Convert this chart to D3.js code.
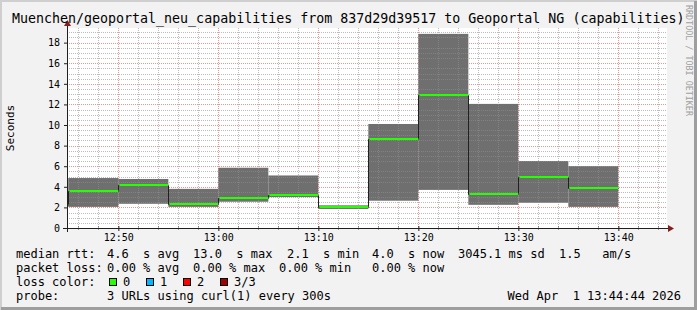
<!DOCTYPE html>
<html>
<head>
<meta charset="utf-8">
<script src="https://cdn.jsdelivr.net/npm/d3@7"></script>
<style>
	html, body { margin: 0; padding: 0; background: #fff; }
	svg { display: block; font-family: "DejaVu Sans Mono", monospace; }
	text { white-space: pre; }
</style>
</head>
<body>
<div id="graphic"></div>
<script>

///////////////////////////////////////////////////////////////////////
// data (5 minute steps, seconds)

const bin_start = [ "12:40", "12:45", "12:50", "12:55", "13:00", "13:05",
	"13:10", "13:15", "13:20", "13:25", "13:30", "13:35" ];
const rtt_min = [ 2.05, 2.05, 2.35, 2.05, 2.55, 3.00, 1.85, 2.65, 3.70, 2.25, 2.45, 2.05 ];
const rtt_median = [ 2.25, 3.55, 4.20, 2.30, 2.90, 3.20, 2.08, 8.65, 12.95, 3.30, 4.95, 3.90 ];
const rtt_max = [ 4.85, 4.85, 4.76, 3.80, 5.85, 5.10, 2.20, 10.10, 18.85, 12.05, 6.50, 6.00 ];

const time_window = [ "12:44:52", "13:44:52" ];
const y_top = 19.42;
const y_ticks = [ 0, 2, 4, 6, 8, 10, 12, 14, 16, 18 ];

const title = "Muenchen/geoportal_neu_capabilities from 837d29d39517 to Geoportal NG (capabilities)";
const legend_rtt = [ "4.6  s avg", "13.0  s max", "2.1  s min", "4.0  s now", "3045.1 ms sd", "1.5   am/s" ];
const legend_loss = [ "0.00 % avg", "0.00 % max", "0.00 % min", "0.00 % now" ];
const loss_labels = [ "0", "1", "2", "3/3" ];
const loss_colors = [ "#26ff00", "#00b8ff", "#ff0000", "#a00000" ];
const probe_text = "3 URLs using curl(1) every 300s";
const stamp_text = "Wed Apr  1 13:44:44 2026";

///////////////////////////////////////////////////////////////////////

const W = 697, H = 310;
const plot = { left: 67, right: 667, top: 28, bottom: 228 };

const parse_hm = d3.timeParse( "%Y-%m-%d %H:%M" );
const parse_hms = d3.timeParse( "%Y-%m-%d %H:%M:%S" );
const day = "2026-04-01 ";

let bins = bin_start.map( ( t, i ) => {
	let t0 = parse_hm( day + t );
	return {
		t0,
		t1: d3.timeMinute.offset( t0, 5 ),
		min: rtt_min[ i ],
		med: rtt_median[ i ],
		max: rtt_max[ i ]
	};
});

let x = d3.scaleTime()
	.domain( time_window.map( t => parse_hms( day + t ) ) )
	.range( [ plot.left, plot.right ] );

let y = d3.scaleLinear()
	.domain( [ 0, y_top ] )
	.range( [ plot.bottom, plot.top ] );

let svg = d3.select( "#graphic" )
	.append( "svg" )
		.attr( "width", W )
		.attr( "height", H );

// background + rrdtool shading
svg.append( "rect" )
	.attr( "width", W ).attr( "height", H )
	.attr( "fill", "#f2f2f2" );
svg.append( "path" )
	.attr( "d", `M1,${H} L1,1 L${W},1` )
	.attr( "fill", "none" ).attr( "stroke", "#cfcfcf" ).attr( "stroke-width", 2 );
svg.append( "path" )
	.attr( "d", `M1,${H - 1.5} L${W - 1.5},${H - 1.5} L${W - 1.5},1` )
	.attr( "fill", "none" ).attr( "stroke", "#9e9e9e" ).attr( "stroke-width", 3 );

svg.append( "rect" )
	.attr( "x", plot.left ).attr( "y", plot.top )
	.attr( "width", plot.right - plot.left ).attr( "height", plot.bottom - plot.top )
	.attr( "fill", "#fff" );

svg.append( "clipPath" ).attr( "id", "clip" )
	.append( "rect" )
		.attr( "x", plot.left ).attr( "y", plot.top )
		.attr( "width", plot.right - plot.left ).attr( "height", plot.bottom - plot.top );

const px = v => Math.round( v ) + 0.5;

let minor_t = d3.timeMinute.every( 2 ).range( ...x.domain() ).filter( d => d.getMinutes() % 10 );
let major_t = d3.timeMinute.every( 10 ).range( ...x.domain() );
let minor_v = d3.range( 0.5, y_top, 0.5 ).filter( v => v % 2 );

function grid( g, color )	{
	g.attr( "stroke", color ).attr( "stroke-dasharray", "1,1" ).attr( "fill", "none" );
}

// major grid (red) under the smoke
let gmaj = svg.append( "g" ).call( grid, "rgba(222,79,79,0.6)" );
gmaj.selectAll( "line.v" ).data( major_t ).join( "line" )
	.attr( "x1", d => px( x( d ) ) ).attr( "x2", d => px( x( d ) ) )
	.attr( "y1", plot.top ).attr( "y2", plot.bottom );
gmaj.selectAll( "line.h" ).data( y_ticks.filter( v => v > 0 ) ).join( "line" )
	.attr( "x1", plot.left ).attr( "x2", plot.right )
	.attr( "y1", d => px( y( d ) ) ).attr( "y2", d => px( y( d ) ) );

// smoke
let data_g = svg.append( "g" ).attr( "clip-path", "url(#clip)" );

data_g.selectAll( "rect" )
	.data( bins )
	.join( "rect" )
		.attr( "x", d => x( d.t0 ) )
		.attr( "width", d => x( d.t1 ) - x( d.t0 ) )
		.attr( "y", d => y( d.max ) )
		.attr( "height", d => y( d.min ) - y( d.max ) )
		.attr( "fill", "#6f6f6f" );

// minor grid (grey) drawn over everything, like the reference
let gmin = svg.append( "g" ).call( grid, "rgba(143,143,143,0.6)" );
gmin.selectAll( "line.v" ).data( minor_t ).join( "line" )
	.attr( "x1", d => px( x( d ) ) ).attr( "x2", d => px( x( d ) ) )
	.attr( "y1", plot.top ).attr( "y2", plot.bottom );
gmin.selectAll( "line.h" ).data( minor_v ).join( "line" )
	.attr( "x1", plot.left ).attr( "x2", plot.right )
	.attr( "y1", d => px( y( d ) ) ).attr( "y2", d => px( y( d ) ) );

// median: dark step line, then loss-coloured segments
let step_pts = bins.map( d => [ d.t0, d.med ] );
step_pts.push( [ bins[ bins.length - 1 ].t1, bins[ bins.length - 1 ].med ] );

let med_g = svg.append( "g" ).attr( "clip-path", "url(#clip)" );
med_g.append( "path" )
	.datum( step_pts )
	.attr( "d", d3.line()
		.x( d => px( x( d[ 0 ] ) ) )
		.y( d => px( y( d[ 1 ] ) ) )
		.curve( d3.curveStepAfter ) )
	.attr( "fill", "none" )
	.attr( "stroke", "#202020" )
	.attr( "stroke-width", 1 );

med_g.selectAll( "line" )
	.data( bins )
	.join( "line" )
		.attr( "x1", d => x( d.t0 ) + 1 )
		.attr( "x2", d => x( d.t1 ) )
		.attr( "y1", d => Math.round( y( d.med ) ) )
		.attr( "y2", d => Math.round( y( d.med ) ) )
		.attr( "stroke", loss_colors[ 0 ] )
		.attr( "stroke-width", 2 );

// axes
let xaxis = svg.append( "g" )
	.attr( "transform", `translate(0,${plot.bottom})` )
	.call( d3.axisBottom( x )
		.ticks( d3.timeMinute.every( 10 ) )
		.tickFormat( d3.timeFormat( "%H:%M" ) )
		.tickSize( 3 )
		.tickPadding( 3 ) );
xaxis.select( ".domain" ).remove();
xaxis.selectAll( ".tick line" ).attr( "stroke", "#1f1f1f" ).attr( "y1", -2 );
xaxis.selectAll( "text" )
	.attr( "font-family", "DejaVu Sans Mono" ).attr( "font-size", 10 ).attr( "fill", "#000" );

svg.append( "g" )
	.selectAll( "line" )
	.data( minor_t )
	.join( "line" )
		.attr( "x1", d => px( x( d ) ) ).attr( "x2", d => px( x( d ) ) )
		.attr( "y1", plot.bottom - 2 ).attr( "y2", plot.bottom + 2 )
		.attr( "stroke", "#1f1f1f" ).attr( "stroke-opacity", 0.4 );

let yaxis = svg.append( "g" )
	.attr( "transform", `translate(${plot.left},0)` )
	.call( d3.axisLeft( y )
		.tickValues( y_ticks )
		.tickSize( 3 )
		.tickPadding( 4 ) );
yaxis.select( ".domain" ).remove();
yaxis.selectAll( ".tick line" ).attr( "stroke", "#1f1f1f" );
yaxis.selectAll( "text" )
	.attr( "font-family", "DejaVu Sans Mono" ).attr( "font-size", 10 ).attr( "fill", "#000" );

svg.append( "line" )
	.attr( "x1", plot.left - 4 ).attr( "x2", plot.right + 1 )
	.attr( "y1", plot.bottom + 0.5 ).attr( "y2", plot.bottom + 0.5 )
	.attr( "stroke", "#1f1f1f" );
svg.append( "line" )
	.attr( "x1", plot.left + 0.5 ).attr( "x2", plot.left + 0.5 )
	.attr( "y1", plot.bottom + 4 ).attr( "y2", plot.top - 3 )
	.attr( "stroke", "#1f1f1f" );
svg.append( "path" )
	.attr( "d", `M${plot.right + 1},${plot.bottom - 3} L${plot.right + 7},${plot.bottom + 0.5} L${plot.right + 1},${plot.bottom + 4} Z` )
	.attr( "fill", "#801f1f" );
svg.append( "path" )
	.attr( "d", `M${plot.left - 3},${plot.top - 2} L${plot.left + 0.5},${plot.top - 8} L${plot.left + 4},${plot.top - 2} Z` )
	.attr( "fill", "#801f1f" );

// texts
svg.append( "text" )
	.attr( "x", 12 ).attr( "y", 23 )
	.attr( "font-size", 13.3 )
	.text( title );

svg.append( "text" )
	.attr( "transform", `translate(14,${( plot.top + plot.bottom ) / 2}) rotate(-90)` )
	.attr( "text-anchor", "middle" )
	.attr( "font-size", 11 )
	.text( "Seconds" );

svg.append( "text" )
	.attr( "transform", "translate(686,5) rotate(90)" )
	.attr( "font-size", 8.4 )
	.attr( "fill", "#a0a0a0" )
	.text( "RRDTOOL / TOBI OETIKER" );

let leg = svg.append( "g" ).attr( "font-size", 12 );
const col0 = 16, col1 = 107;
const row = [ 258, 272, 286, 300 ];
const rtt_x = [ 107, 193, 287, 372, 458, 559 ];
const loss_x = [ 107, 193, 279, 372 ];

leg.append( "text" ).attr( "x", col0 ).attr( "y", row[ 0 ] ).text( "median rtt:" );
leg.selectAll( "text.rtt" ).data( legend_rtt ).join( "text" )
	.attr( "class", "rtt" )
	.attr( "x", ( d, i ) => rtt_x[ i ] ).attr( "y", row[ 0 ] ).text( d => d );

leg.append( "text" ).attr( "x", col0 ).attr( "y", row[ 1 ] ).text( "packet loss:" );
leg.selectAll( "text.loss" ).data( legend_loss ).join( "text" )
	.attr( "class", "loss" )
	.attr( "x", ( d, i ) => loss_x[ i ] ).attr( "y", row[ 1 ] ).text( d => d );

leg.append( "text" ).attr( "x", col0 ).attr( "y", row[ 2 ] ).text( "loss color:" );
let sw = leg.selectAll( "g.sw" ).data( loss_labels ).join( "g" )
	.attr( "class", "sw" )
	.attr( "transform", ( d, i ) => `translate(${col1 + 2 + i * 37},0)` );
sw.append( "rect" )
	.attr( "x", 0.5 ).attr( "y", row[ 2 ] - 7.5 )
	.attr( "width", 7 ).attr( "height", 7 )
	.attr( "fill", ( d, i ) => loss_colors[ i ] )
	.attr( "stroke", "#000" );
sw.append( "text" )
	.attr( "x", 14 ).attr( "y", row[ 2 ] )
	.text( d => d );

leg.append( "text" ).attr( "x", col0 ).attr( "y", row[ 3 ] ).text( "probe:" );
leg.append( "text" ).attr( "x", col1 ).attr( "y", row[ 3 ] ).text( probe_text );
leg.append( "text" ).attr( "x", 681 ).attr( "y", row[ 3 ] )
	.attr( "text-anchor", "end" ).text( stamp_text );

</script>
</body>
</html>
